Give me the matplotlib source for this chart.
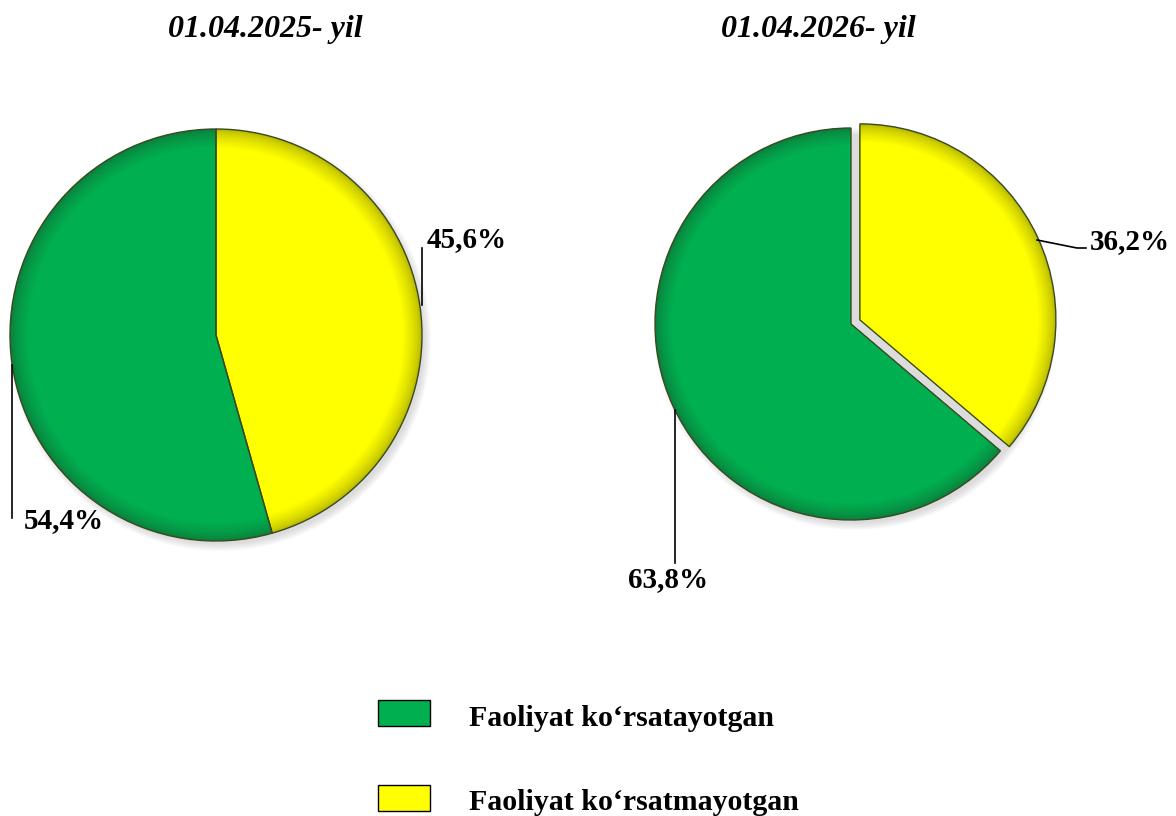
import numpy as np
import matplotlib.pyplot as plt
from matplotlib.colors import to_rgb
from matplotlib.patches import Rectangle, Circle

# Ma'lumotlar
yillar = ['01.04.2025- yil', '01.04.2026- yil']
toifalar = ['Faoliyat ko\u2018rsatayotgan', 'Faoliyat ko\u2018rsatmayotgan']
faol = [54.4, 63.8]
nofaol = [45.6, 36.2]
ranglar = ['#00B050', '#FFFF00']
qora_ranglar = ['#0A7F3C', '#B8B800']

plt.rcParams['font.family'] = ['Liberation Serif', 'DejaVu Serif']

W, H = 1176, 816
fig = plt.figure(figsize=(W / 100, H / 100), dpi=100)
ax = fig.add_axes([0, 0, 1, 1])
ax.set_xlim(0, W)
ax.set_ylim(0, H)
ax.set_aspect('equal')
ax.axis('off')


def mix(c1, c2, t):
    a, b = np.array(to_rgb(c1)), np.array(to_rgb(c2))
    return tuple(a + (b - a) * t)


def chiz_pie(cx, cy, R, qiymat, portlash):
    # soya
    for k in range(8):
        ax.add_patch(Circle((cx + 4, cy - 5), R + 5 - k, color='gray',
                            alpha=0.035, lw=0, zorder=1))
    vals = [qiymat[1], qiymat[0]]  # sariq birinchi, soat yo'nalishida
    cols = [ranglar[1], ranglar[0]]
    dark = [qora_ranglar[1], qora_ranglar[0]]
    n = 12
    for k in range(n + 1):
        t = k / n
        r = R * (1 - 0.09 * t)
        cc = [mix(d, c, t ** 0.7) for d, c in zip(dark, cols)]
        ax.pie(vals, colors=cc, startangle=90, counterclock=False,
               radius=r, center=(cx, cy),
               explode=[portlash * R, 0],
               wedgeprops=dict(lw=0), frame=True)
    # chegara chiziqlari
    ax.pie(vals, colors=['none', 'none'], startangle=90, counterclock=False,
           radius=R, center=(cx, cy), explode=[portlash * R, 0],
           wedgeprops=dict(lw=1.0, edgecolor='#3a4a20', fill=False),
           frame=True)


chiz_pie(216, H - 335, 206, [faol[0], nofaol[0]], 0.0)
chiz_pie(851, H - 324, 196, [faol[1], nofaol[1]], 0.05)

ax.set_xlim(0, W)
ax.set_ylim(0, H)
ax.axis('off')

# sarlavhalar
shrift = dict(fontsize=23, fontweight='bold')
ax.text(265, H - 30, yillar[0], ha='center', va='center', style='italic', **shrift)
ax.text(818, H - 30, yillar[1], ha='center', va='center', style='italic', **shrift)

# foiz yorliqlari va chiziqlar
fmt = lambda v: f'{v:.1f}%'.replace('.', ',')
fs = 21
ax.plot([422, 422], [H - 305, H - 248], color='black', lw=1.2)
ax.text(427, H - 240, fmt(nofaol[0]), ha='left', va='center', fontsize=fs, fontweight='bold')
ax.plot([12, 12], [H - 365, H - 518], color='black', lw=1.2)
ax.text(24, H - 521, fmt(faol[0]), ha='left', va='center', fontsize=fs, fontweight='bold')
ax.plot([1037, 1077, 1086], [H - 240, H - 248, H - 248], color='black', lw=1.2)
ax.text(1090, H - 242, fmt(nofaol[1]), ha='left', va='center', fontsize=fs, fontweight='bold')
ax.plot([675, 675], [H - 410, H - 563], color='black', lw=1.2)
ax.text(628, H - 580, fmt(faol[1]), ha='left', va='center', fontsize=fs, fontweight='bold')

# legenda
for i, (nom, rang) in enumerate(zip(toifalar, ranglar)):
    y = H - 713 - i * 85
    ax.add_patch(Rectangle((378, y - 13), 52, 26, facecolor=rang,
                           edgecolor='black', lw=1.0))
    ax.text(469, y - 5, nom, ha='left', va='center', fontsize=21.5, fontweight='bold')

plt.savefig('out.png', dpi=100)
